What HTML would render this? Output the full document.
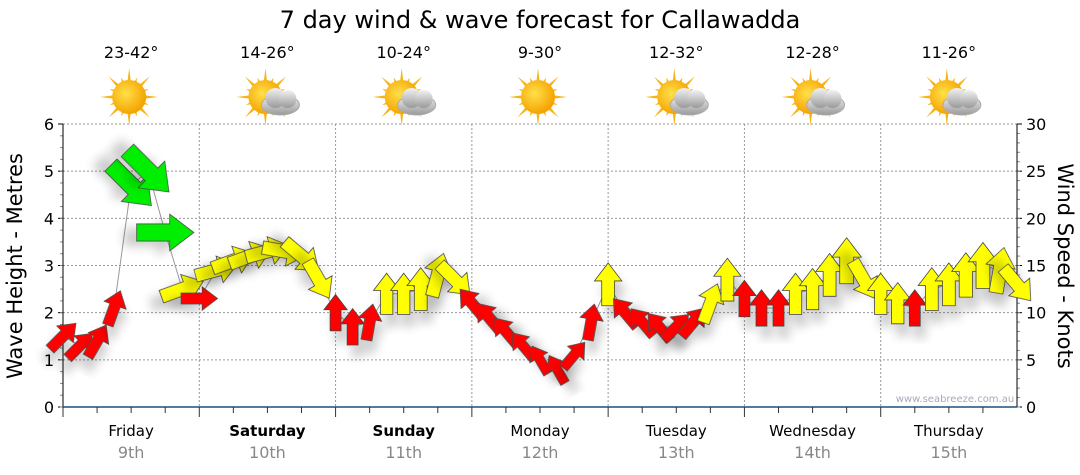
<!DOCTYPE html>
<html><head><meta charset="utf-8">
<style>
body{margin:0;background:#fff;}
svg{display:block;font-family:"DejaVu Sans","Liberation Sans",sans-serif;}
</style></head>
<body>
<svg id="c" width="1080" height="475" viewBox="0 0 1080 475">
<defs>
<radialGradient id="sunG" cx="0.4" cy="0.4" r="0.6"><stop offset="0" stop-color="#ffe04a"/><stop offset="1" stop-color="#f5a300"/></radialGradient>
<linearGradient id="cloudG" x1="0" y1="0" x2="0" y2="1"><stop offset="0" stop-color="#f2f2f2"/><stop offset="1" stop-color="#9a9a9a"/></linearGradient>
<filter id="sh" x="-50%" y="-50%" width="200%" height="200%"><feGaussianBlur in="SourceAlpha" stdDeviation="5"/><feOffset dx="5" dy="12"/><feComponentTransfer><feFuncA type="linear" slope="0.2"/></feComponentTransfer><feMerge><feMergeNode/><feMergeNode in="SourceGraphic"/></feMerge></filter>
</defs>
<text x="540" y="28" text-anchor="middle" font-size="24" fill="#000">7 day wind &amp; wave forecast for Callawadda</text>
<g id="icons"></g>
<g id="grid"></g>
<g id="axes"></g>
<g id="series"></g>
<text x="955" y="402" text-anchor="middle" font-size="10" fill="#aab">www.seabreeze.com.au</text>
<text transform="translate(22,266) rotate(-90)" text-anchor="middle" font-size="21">Wave Height - Metres</text>
<text transform="translate(1058,266) rotate(90)" text-anchor="middle" font-size="21">Wind Speed - Knots</text>
</svg>
<script>
const days = ["Friday","Saturday","Sunday","Monday","Tuesday","Wednesday","Thursday"];
const dates = ["9th","10th","11th","12th","13th","14th","15th"];
const boldDays = [false,true,true,false,false,false,false];
const temps = ["23-42°","14-26°","10-24°","9-30°","12-32°","12-28°","11-26°"];
const icons = ["sun","cloud","cloud","sun","cloud","cloud","cloud"];
const waveTicks = [0,1,2,3,4,5,6];
const windTicks = [0,5,10,15,20,25,30];
const hours = [0,3,6,9,12,15,18,21,24,27,30,33,36,39,42,45,48,51,54,57,60,63,66,69,72,75,78,81,84,87,90,93,96,99,102,105,108,111,114,117,120,123,126,129,132,135,138,141,144,147,150,153,156,159,162,165,168];
const waves = [1.5,1.3,1.4,2.1,4.7,5.0,3.7,2.5, 2.3,2.9,3.1,3.2,3.3,3.3,3.2,2.7, 2.0,1.7,1.8,2.4,2.4,2.5,2.8,2.7, 2.2,1.9,1.6,1.3,1.0,0.8,1.1,1.8, 2.6,2.0,1.8,1.7,1.7,1.8,2.2,2.7, 2.3,2.1,2.1,2.4,2.5,2.8,3.1,2.7, 2.4,2.2,2.1,2.5,2.6,2.8,3.0,2.9,2.6];
const winds = [9,8,9,9,22,23,22,14, 9,13,14,14,14,14,14,13, 9,9,9,12,12,13,14,13, 9,9,8,7,6,6,7,9, 13,9,8,8,8,9,12,13, 9,9,9,12,12,13,15,13, 12,12,9,13,13,14,15,15,13];
const dirs = [45,45,30,20,135,135,90,70, 90,75,70,70,75,100,130,150, 0,0,10,0,0,0,15,135, 320,320,320,320,330,330,40,10, 0,320,320,320,45,40,20,0, 0,0,0,0,0,0,0,150, 0,0,0,0,0,0,0,10,140];

const X0=63,X1=1017,Y0=407,Y1=124;
const NS="http://www.w3.org/2000/svg";
function xs(h){return X0+(X1-X0)*h/168;}
function yw(v){return Y0-(Y0-Y1)*v/6;}
function yk(v){return Y0-(Y0-Y1)*v/30;}
function mk(t,a,p){const e=document.createElementNS(NS,t);for(const k in a)e.setAttribute(k,a[k]);p.appendChild(e);return e;}
const grid=document.getElementById('grid'),axes=document.getElementById('axes'),ser=document.getElementById('series'),ic=document.getElementById('icons');

waveTicks.forEach(v=>{
  if(v>0){const l=mk('line',{x1:X0,x2:X1,y1:yw(v),y2:yw(v),stroke:'#999','stroke-dasharray':'2,2'},grid);
  
  }
  const t=mk('text',{x:X0-9,y:yw(v)+6,'text-anchor':'end','font-size':16},axes);t.textContent=v;
  
  
  mk('line',{x1:X0-5,x2:X0,y1:yw(v),y2:yw(v),stroke:'#000'},axes);
});
for(let v=0;v<6;v+=0.25){mk('line',{x1:X0-3,x2:X0,y1:yw(v),y2:yw(v),stroke:'#888'},axes);}
windTicks.forEach(v=>{
  const t=mk('text',{x:X1+9,y:yk(v)+6,'text-anchor':'start','font-size':16},axes);t.textContent=v;
  
  
  mk('line',{x1:X1,x2:X1+5,y1:yk(v),y2:yk(v),stroke:'#000'},axes);
});
for(let v=0;v<30;v+=1){mk('line',{x1:X1,x2:X1+3,y1:yk(v),y2:yk(v),stroke:'#888'},axes);}
mk('line',{x1:X0,x2:X0,y1:Y1,y2:Y0,stroke:'#000'},axes);
mk('line',{x1:X1,x2:X1,y1:Y1,y2:Y0,stroke:'#000'},axes);
mk('line',{x1:X0,x2:X1,y1:Y0,y2:Y0,stroke:'#1f4e79','stroke-width':1.5},axes);

days.forEach((d,i)=>{
  const xa=xs(i*24),xc=xs(i*24+12);
  if(i>0){const l=mk('line',{x1:xa,x2:xa,y1:Y1,y2:Y0,stroke:'#999','stroke-dasharray':'2,2'},grid);
  
  }
  for(let k=0;k<4;k++){mk('line',{x1:xs(i*24+k*6),x2:xs(i*24+k*6),y1:Y0,y2:Y0+(k==0?10:6),stroke:'#333'},axes);}
  const t=mk('text',{x:xc,y:436,'text-anchor':'middle','font-size':15,'font-weight':boldDays[i]?'bold':'normal'},axes);t.textContent=d;
  
  
  const t2=mk('text',{x:xc,y:458,'text-anchor':'middle','font-size':16,fill:'#888'},axes);t2.textContent=dates[i];
  
  
  const tt=mk('text',{x:xc,y:58,'text-anchor':'middle','font-size':16},ic);tt.textContent=temps[i];
  
  
  const g=mk('g',{transform:`translate(${xc-2},${97})`},ic);
  
  
  for(let r=0;r<16;r++){const a=r*Math.PI/8,L=(r%2?21:29),w=0.13;
    mk('polygon',{points:`${Math.cos(a-w)*14},${Math.sin(a-w)*14} ${Math.cos(a)*L},${Math.sin(a)*L} ${Math.cos(a+w)*14},${Math.sin(a+w)*14}`,fill:'#f6b416'},g);}
  mk('circle',{cx:0,cy:0,r:17,fill:'url(#sunG)'},g);
  if(icons[i]==='cloud'){
    const c=mk('g',{},g);
    mk('ellipse',{cx:15,cy:8,rx:19,ry:10,fill:'url(#cloudG)',stroke:'#aaa'},c);
    mk('circle',{cx:10,cy:1,r:10,fill:'url(#cloudG)'},c);
    mk('circle',{cx:22,cy:2,r:9,fill:'url(#cloudG)'},c);
  }
});

// connecting line
let d='';hours.forEach((h,i)=>{d+=(i?'L':'M')+xs(h)+','+yw(waves[i]);});
const pl=mk('path',{d:d,fill:'none',stroke:'#999','stroke-width':1},ser);



hours.forEach((h,i)=>{
  const s=winds[i],col=s<10?'#ff0000':(s<20?'#ffff00':'#00ee00');
  const L=22+1.6*s,hw=L*0.32,sw=L*0.15,hl=L*0.42;
  const pts=`0,${-L/2} ${hw},${-L/2+hl} ${sw},${-L/2+hl} ${sw},${L/2} ${-sw},${L/2} ${-sw},${-L/2+hl} ${-hw},${-L/2+hl}`;
  const p=mk('polygon',{points:pts,fill:col,stroke:'#444','stroke-width':0.8,filter:'url(#sh)',transform:`translate(${xs(h)},${yw(waves[i])}) rotate(${dirs[i]})`},ser);
  
  
});
</script>
</body></html>
